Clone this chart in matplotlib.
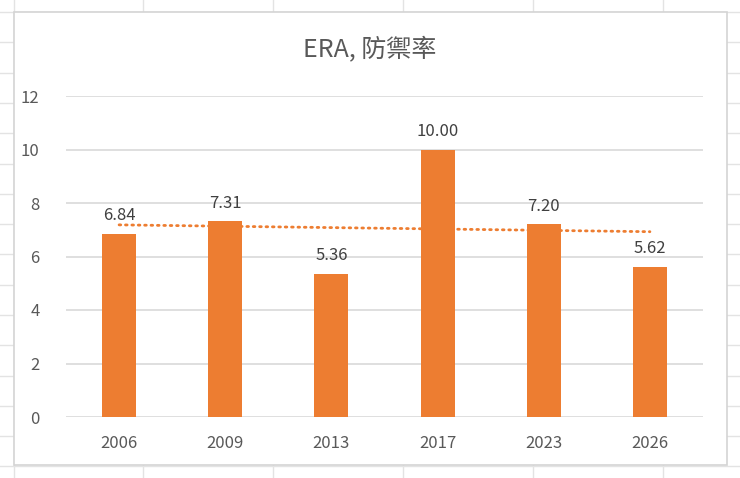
import matplotlib
matplotlib.use("Agg")
from matplotlib import pyplot as plt
from matplotlib.patches import Rectangle
import numpy as np

plt.rcParams['font.family'] = ['Noto Sans CJK TC', 'DejaVu Sans']

# data
years = ["2006", "2009", "2013", "2017", "2023", "2026"]
era = [6.84, 7.31, 5.36, 10.00, 7.20, 5.62]
y_ticks = [0, 2, 4, 6, 8, 10, 12]

orange = "#ED7D31"
text_grey = "#595959"

W, H = 740, 478
fig = plt.figure(figsize=(W / 100, H / 100), dpi=100)

# spreadsheet cells behind the chart
bg = fig.add_axes([0, 0, 1, 1])
bg.set_xlim(0, W)
bg.set_ylim(H, 0)
bg.axis("off")
for x in [14, 143, 273, 403, 533, 663]:
    bg.axvline(x, color="#e3e3e3", lw=1)
for y in np.arange(12, H, 30.3):
    bg.axhline(y, color="#e3e3e3", lw=1)
bg.add_patch(Rectangle((14, 12), 713, 453, facecolor="white",
                       edgecolor="#d4d4d4", lw=1.2, zorder=3))

ax = fig.add_axes([66 / W, 61 / H, 637 / W, 321 / H])
ax.set_facecolor("none")
x = np.arange(len(years))
ax.bar(x, era, width=0.32, color=orange, zorder=3)

# linear trendline like excel
k, b = np.polyfit(x, era, 1)
ax.plot(x, k * x + b, color=orange, lw=2, linestyle=(0, (0.6, 1.7)),
        dash_capstyle="round", zorder=4)

for xi, v in zip(x, era):
    ax.annotate(f"{v:.2f}", (xi, v), xytext=(0, 7), textcoords="offset points",
                ha="center", va="bottom", fontsize=12, color="#404040", zorder=5)

ax.set_xlim(-0.5, len(years) - 0.5)
ax.set_ylim(0, 12)
ax.set_yticks(y_ticks)
ax.set_xticks(x)
ax.set_xticklabels(years)
ax.grid(axis="y", color="#d9d9d9", lw=1.2, zorder=0)
for s in ax.spines.values():
    s.set_visible(False)
ax.tick_params(length=0, labelsize=12, labelcolor=text_grey)
ax.tick_params(axis="y", pad=19)
ax.tick_params(axis="x", pad=13)

fig.text(370 / W, 1 - 50 / H, "ERA, 防禦率", ha="center", va="center",
         fontsize=18, color=text_grey)

fig.savefig("out.png", dpi=100)
